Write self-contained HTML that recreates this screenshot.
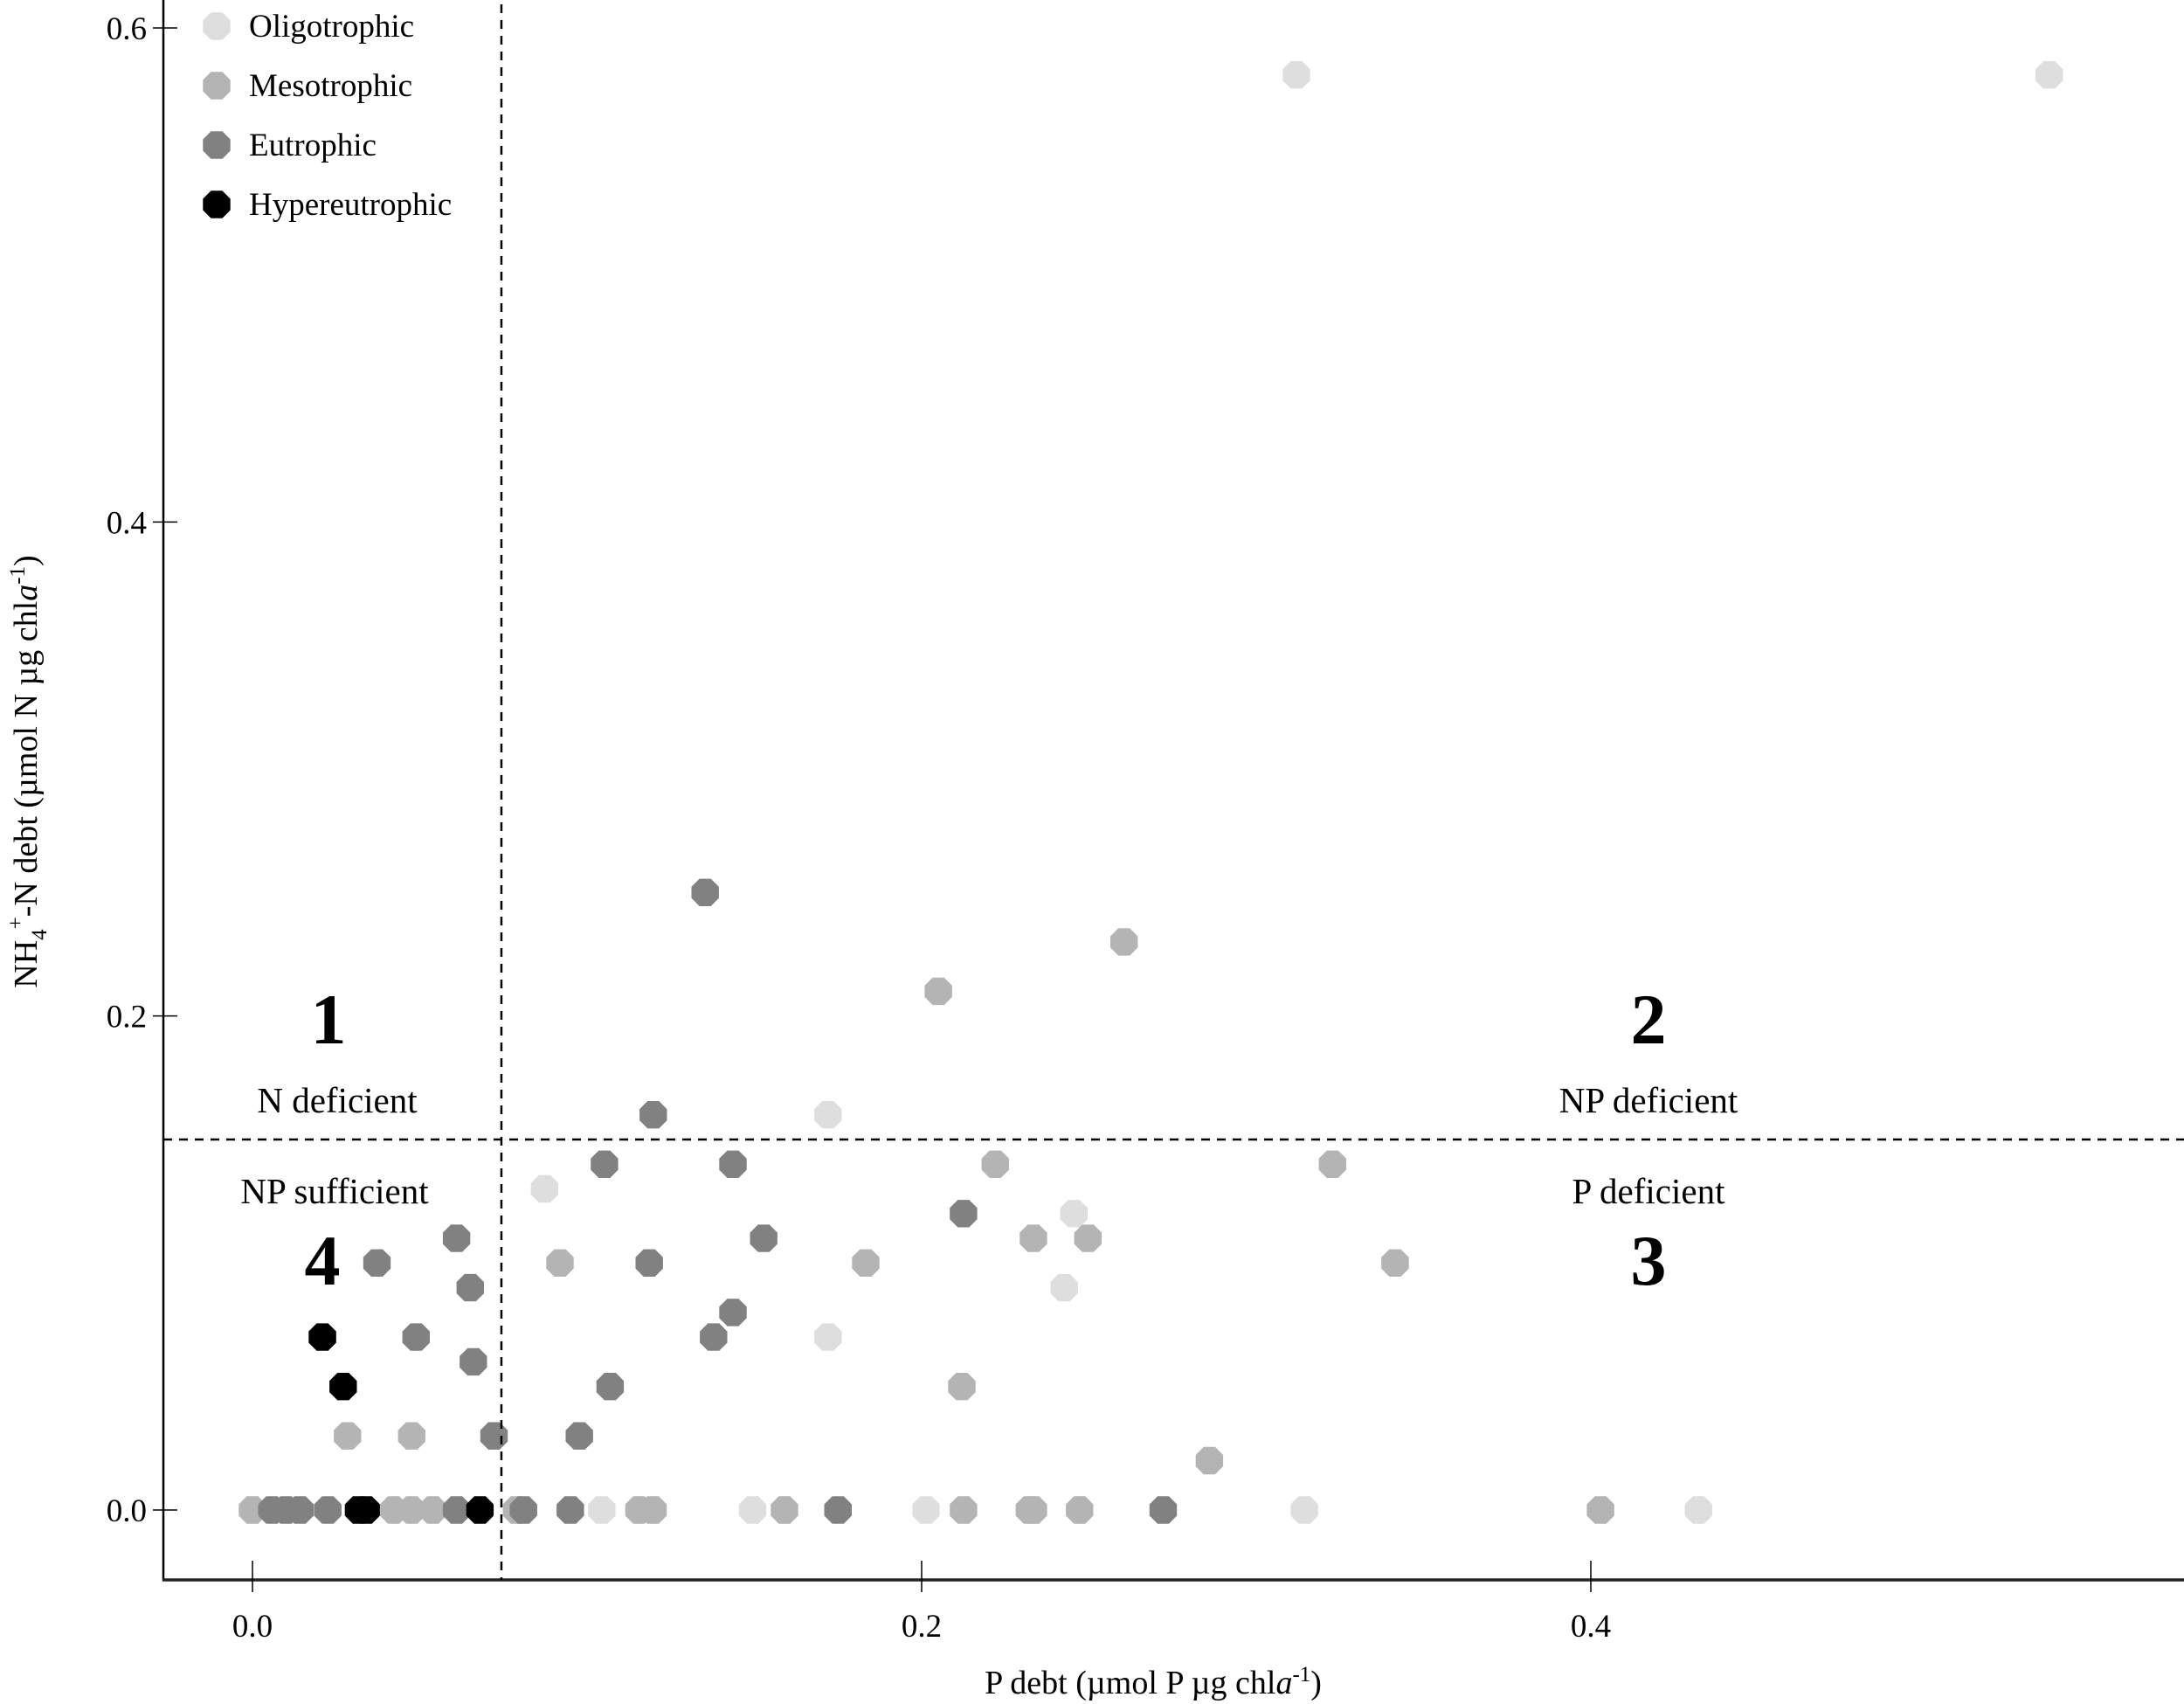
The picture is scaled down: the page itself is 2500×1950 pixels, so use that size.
<!DOCTYPE html>
<html><head><meta charset="utf-8"><style>
html,body{margin:0;padding:0;background:#fff;}
svg{display:block;font-family:"Liberation Serif",serif;}
</style></head><body>
<svg id="chart" width="2500" height="1950" viewBox="0 0 2500 1950">
<g id="marks"></g>
</svg>
<script>
const xTicks=[0.0,0.2,0.4];
const yTicks=[0.0,0.2,0.4,0.6];
const xTickLabels=["0.0","0.2","0.4"];
const yTickLabels=["0.0","0.2","0.4","0.6"];
const categories=["Oligotrophic","Mesotrophic","Eutrophic","Hypereutrophic"];
const oligoX=[0.312,0.537,0.172,0.0873,0.2455,0.2426,0.172,0.1044,0.1495,0.2013,0.3144,0.4322];
const oligoY=[0.581,0.581,0.160,0.130,0.120,0.090,0.070,0,0,0,0,0];
const mesoX=[0.2605,0.205,0.222,0.3228,0.2334,0.2497,0.1833,0.0919,0.3415,0.212,0.0284,0.0476,0.286,0,0.0422,0.0476,0.0539,0.0789,0.1155,0.1197,0.159,0.2125,0.2322,0.2334,0.2472,0.4029];
const mesoY=[0.230,0.210,0.140,0.140,0.110,0.110,0.100,0.100,0.100,0.050,0.030,0.030,0.020,0,0,0,0,0,0,0,0,0,0,0,0,0];
const eutroX=[0.1353,0.1198,0.1052,0.1436,0.061,0.1528,0.2125,0.0372,0.1186,0.0651,0.1436,0.1378,0.0489,0.066,0.1069,0.0722,0.0977,0.0058,0.010,0.0142,0.0225,0.061,0.081,0.095,0.175,0.2722];
const eutroY=[0.250,0.160,0.140,0.140,0.110,0.110,0.120,0.100,0.100,0.090,0.080,0.070,0.070,0.060,0.050,0.030,0.030,0,0,0,0,0,0,0,0,0];
const hyperX=[0.0209,0.0271,0.0317,0.034,0.068];
const hyperY=[0.070,0.050,0,0,0];
const colors=["#dedede","#b4b4b4","#818181","#000000"];
const vLine=0.0744, hLine=0.150;

const NS="http://www.w3.org/2000/svg";
const svg=document.getElementById('chart');
const marks=document.getElementById('marks');
const X0=289, XS=3830, Y0=1728, YS=2826.7;
function sx(v){return X0+v*XS;}
function sy(v){return Y0-v*YS;}
function mk(tag,attrs,parent){const e=document.createElementNS(NS,tag);for(const k in attrs)e.setAttribute(k,attrs[k]);(parent||svg).appendChild(e);return e;}
function oct(cx,cy,r){let p=[];for(let i=0;i<8;i++){const a=Math.PI/8+i*Math.PI/4;p.push((cx+r*Math.cos(a)).toFixed(1)+","+(cy+r*Math.sin(a)).toFixed(1));}return p.join(" ");}

let a=mk('line',{x1:187,y1:0,x2:187,y2:1809,stroke:'#000','stroke-width':2.5});


a=mk('line',{x1:186,y1:1808,x2:2500,y2:1808,stroke:'#222','stroke-width':3.5});


xTicks.forEach((t,i)=>{
 const l=mk('line',{x1:sx(t),y1:1786,x2:sx(t),y2:1822,stroke:'#000','stroke-width':1.5});
 
 
 const tx=mk('text',{x:sx(t),y:1873,'font-size':37,'text-anchor':'middle',fill:'#000'});
 tx.textContent=xTickLabels[i];
 
 
});
yTicks.forEach((t,i)=>{
 const l=mk('line',{x1:175,y1:sy(t),x2:203,y2:sy(t),stroke:'#000','stroke-width':1.5});
 
 
 const tx=mk('text',{x:168,y:sy(t)+13,'font-size':37,'text-anchor':'end',fill:'#000'});
 tx.textContent=yTickLabels[i];
 
 
});
a=mk('line',{x1:sx(vLine),y1:5,x2:sx(vLine),y2:1808,stroke:'#000','stroke-width':2.5,'stroke-dasharray':'10,8'});


a=mk('line',{x1:187,y1:sy(hLine),x2:2500,y2:sy(hLine),stroke:'#000','stroke-width':2.5,'stroke-dasharray':'10,8'});



const series=[[oligoX,oligoY],[mesoX,mesoY],[eutroX,eutroY],[hyperX,hyperY]];
series.forEach((s,si)=>{
 s[0].forEach((xv,i)=>{
  const p=mk('polygon',{points:oct(sx(xv),sy(s[1][i]),17),fill:colors[si]},marks);
  
  
 });
});

categories.forEach((c,i)=>{
 const y=30+i*68;
 const p=mk('polygon',{points:oct(248,y,17),fill:colors[i]});
 
 
 const t=mk('text',{x:285,y:y+12,'font-size':37,fill:'#000'});
 t.textContent=c;
 
 
});

const regs=[["1",376,1194,82,'bold'],["N deficient",386,1273,41,'normal'],["2",1887,1194,82,'bold'],["NP deficient",1887,1273,41,'normal'],
["NP sufficient",383,1377,41,'normal'],["4",369,1470,82,'bold'],["P deficient",1887,1377,41,'normal'],["3",1887,1470,82,'bold']];
regs.forEach(r=>{
 const t=mk('text',{x:r[1],y:r[2],'font-size':r[3],'font-weight':r[4],'text-anchor':'middle',fill:'#000'});
 t.textContent=r[0];
 
 
});

let xt=mk('text',{x:1320,y:1938,'font-size':38,'text-anchor':'middle',fill:'#000'});
xt.innerHTML='P debt (µmol  P µg chl<tspan font-style="italic">a</tspan><tspan dy="-14" font-size="25">-1</tspan><tspan dy="14">)</tspan>';


let yt=mk('text',{x:0,y:0,'font-size':38,'text-anchor':'middle',fill:'#000',transform:'translate(42,883) rotate(-90)'});
yt.innerHTML='NH<tspan dy="11" font-size="25">4</tspan><tspan dy="-27" font-size="25">+</tspan><tspan dy="16">-N debt (µmol  N µg chl</tspan><tspan font-style="italic">a</tspan><tspan dy="-14" font-size="25">-1</tspan><tspan dy="14">)</tspan>';


</script>
</body></html>
